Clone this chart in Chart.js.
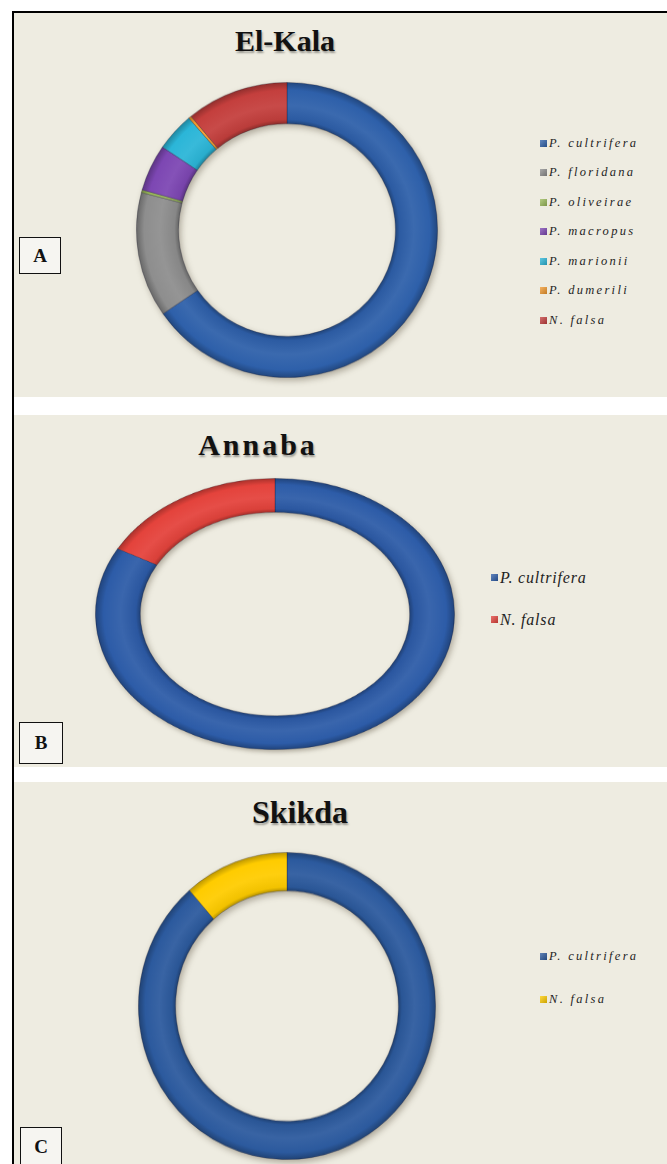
<!DOCTYPE html>
<html>
<head>
<meta charset="utf-8">
<script src="https://cdn.jsdelivr.net/npm/chart.js@4.4.1/dist/chart.umd.min.js"></script>
<style>
  html, body { margin:0; padding:0; background:#ffffff; }
  body { width:667px; height:1164px; position:relative; overflow:hidden; }
  .panel { position:absolute; left:14px; width:653px; background:#EEECE1; }
  .vline { position:absolute; left:12px; top:11px; width:2px; height:1153px; background:#000; }
  .hline { position:absolute; left:12px; top:11px; width:655px; height:2px; background:#000; }
  .title { position:absolute; font-family:"Liberation Serif","Times New Roman",serif; font-weight:bold;
           color:#111; text-shadow:1px 2px 2px rgba(0,0,0,0.35); white-space:nowrap; transform:translateX(-50%); }
  .box { position:absolute; border:1.5px solid #111; background:#f6f5f1; box-sizing:border-box;
         font-family:"Liberation Serif","Times New Roman",serif; font-weight:bold; font-size:19px;
         color:#111; display:flex; align-items:center; justify-content:center; }
  .wrap { position:absolute; transform-origin:0 0; }
  .wrap canvas { filter: drop-shadow(2px 3px 3px rgba(60,50,30,0.35)); }
  .legend { position:absolute; font-family:"Liberation Serif","Times New Roman",serif; font-style:italic; color:#1e1e1e; }
  .legend .item { position:absolute; left:0; white-space:nowrap; display:flex; align-items:center; }
  .legend .sw { display:inline-block; width:7px; height:7px; margin-right:2px; }
</style>
</head>
<body>
<div class="panel" style="top:13px;height:384px;"></div>
<div class="panel" style="top:415px;height:352px;"></div>
<div class="panel" style="top:782px;height:382px;"></div>
<div class="vline"></div>
<div class="hline"></div>

<div class="title" style="left:285px;top:24px;font-size:30px;">El-Kala</div>
<div class="title" style="left:258px;top:428px;font-size:30px;letter-spacing:3px;">Annaba</div>
<div class="title" style="left:300px;top:794px;font-size:32px;">Skikda</div>

<div class="box" style="left:19px;top:237px;width:42px;height:37px;">A</div>
<div class="box" style="left:19px;top:722px;width:44px;height:42px;">B</div>
<div class="box" style="left:20px;top:1127px;width:42px;height:40px;">C</div>

<div class="wrap" id="wA"><canvas id="cA"></canvas></div>
<div class="wrap" id="wB"><canvas id="cB"></canvas></div>
<div class="wrap" id="wC"><canvas id="cC"></canvas></div>

<div class="legend" id="lA"></div>
<div class="legend" id="lB"></div>
<div class="legend" id="lC"></div>

<script>
// ---- Data ----
const elKalaLabels = ['P. cultrifera', 'P. floridana', 'P. oliveirae', 'P. macropus', 'P. marionii', 'P. dumerili', 'N. falsa'];
const elKalaValues = [65.4, 13.7, 0.3, 5.1, 4.2, 0.3, 11.0];
const elKalaColors = ['#2e60aa', '#8e8e8e', '#9bbb59', '#7d47b3', '#2bb6d8', '#f39a2e', '#c43f3d'];

const annabaLabels = ['P. cultrifera', 'N. falsa'];
const annabaValues = [83.0, 17.0];
const annabaColors = ['#2d5ca8', '#e4433c'];

const skikdaLabels = ['P. cultrifera', 'N. falsa'];
const skikdaValues = [88.6, 11.4];
const skikdaColors = ['#2c5a9e', '#ffcc00'];

// ---- helpers ----
function shade(hex, f) {
  const n = parseInt(hex.slice(1), 16);
  let r = (n >> 16) & 255, g = (n >> 8) & 255, b = n & 255;
  if (f >= 1) {
    const t = f - 1;
    r = r + (255 - r) * t; g = g + (255 - g) * t; b = b + (255 - b) * t;
  } else { r *= f; g *= f; b *= f; }
  return 'rgb(' + Math.round(r) + ',' + Math.round(g) + ',' + Math.round(b) + ')';
}

function tubeFill(colors) {
  return function (ctx) {
    const base = colors[ctx.dataIndex];
    const chart = ctx.chart;
    const area = chart.chartArea;
    const meta = chart.getDatasetMeta(0);
    const ctrl = meta && meta.controller;
    if (!area || !ctrl || !ctrl.outerRadius) return base;
    const cx = (area.left + area.right) / 2, cy = (area.top + area.bottom) / 2;
    const inner = ctrl.innerRadius, outer = ctrl.outerRadius;
    const g = chart.ctx.createRadialGradient(cx, cy, Math.max(inner - 1, 0), cx, cy, outer);
    g.addColorStop(0, shade(base, 0.66));
    g.addColorStop(0.12, shade(base, 0.95));
    g.addColorStop(0.45, shade(base, 1.06));
    g.addColorStop(0.82, shade(base, 1.0));
    g.addColorStop(1, shade(base, 0.74));
    return g;
  };
}

function makeChart(id, wrapId, labels, values, colors, cx, cy, rx, ry, cutout) {
  const w = document.getElementById(wrapId);
  w.style.left = (cx - rx) + 'px';
  w.style.top = (cy - ry) + 'px';
  w.style.width = (2 * rx) + 'px';
  w.style.height = (2 * rx) + 'px';
  w.style.transform = 'scaleY(' + (ry / rx) + ')';
  new Chart(document.getElementById(id), {
    type: 'doughnut',
    data: {
      labels: labels,
      datasets: [{
        data: values,
        backgroundColor: tubeFill(colors),
        borderColor: 'rgba(20,20,40,0.35)',
        borderWidth: 0.8
      }]
    },
    options: {
      responsive: true,
      maintainAspectRatio: false,
      animation: false,
      cutout: cutout,
      rotation: 0,
      layout: { padding: 0 },
      plugins: { legend: { display: false }, tooltip: { enabled: false } }
    }
  });
}

function makeLegend(id, labels, colors, left, firstY, step, fontSize, spacing) {
  const el = document.getElementById(id);
  el.style.left = left + 'px';
  el.style.top = '0px';
  labels.forEach((lab, i) => {
    const it = document.createElement('div');
    it.className = 'item';
    it.style.top = (firstY + i * step - fontSize * 0.65) + 'px';
    it.style.fontSize = fontSize + 'px';
    it.style.letterSpacing = spacing + 'px';
    const sw = document.createElement('span');
    sw.className = 'sw';
    sw.style.background = 'linear-gradient(135deg,' + shade(colors[i], 1.25) + ',' + shade(colors[i], 0.8) + ')';
    const tx = document.createElement('span');
    tx.textContent = lab;
    it.appendChild(sw); it.appendChild(tx);
    el.appendChild(it);
  });
}

makeChart('cA', 'wA', elKalaLabels, elKalaValues, elKalaColors, 287, 230, 151, 148, '72%');
makeChart('cB', 'wB', annabaLabels, annabaValues, annabaColors, 275, 614, 180, 136, '75%');
makeChart('cC', 'wC', skikdaLabels, skikdaValues, skikdaColors, 287, 1006, 149, 154, '75%');

makeLegend('lA', elKalaLabels, elKalaColors, 540, 144, 29.5, 12.5, 2.3);
makeLegend('lB', annabaLabels, annabaColors, 491, 579, 42, 16, 0.8);
makeLegend('lC', skikdaLabels, skikdaColors, 540, 957, 43, 12.5, 2.3);
</script>
</body>
</html>
